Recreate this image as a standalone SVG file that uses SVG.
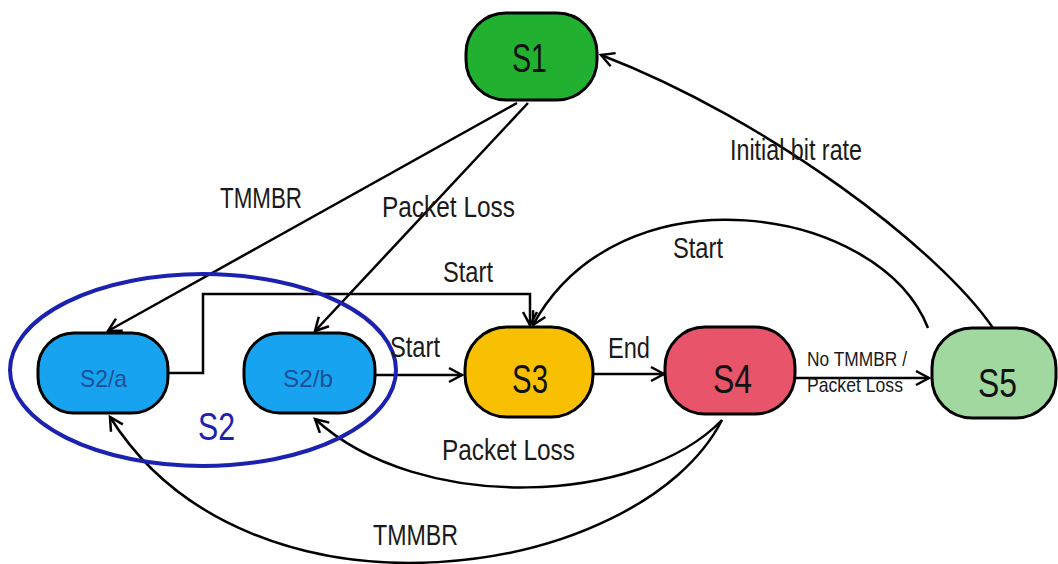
<svg xmlns="http://www.w3.org/2000/svg" width="1058" height="564" viewBox="0 0 1058 564">
<style>
.node{stroke:#000;stroke-width:3}
.lbl{font-family:"Liberation Sans",Arial,sans-serif;fill:#1a1a1a}
.st{font-family:"Liberation Sans",Arial,sans-serif;fill:#111}
.sub{font-family:"Liberation Sans",Arial,sans-serif;fill:#1d4f95}
.conn{fill:none;stroke:#000;stroke-width:2.5}
</style>
<defs>
<marker id="arr" markerUnits="userSpaceOnUse" markerWidth="20" markerHeight="20" viewBox="-16 -10 20 20" refX="0" refY="0" orient="auto">
<path d="M -13 -7 L 0 0 L -13 7" fill="none" stroke="#000" stroke-width="2.5"/>
</marker>
</defs>
<rect width="1058" height="564" fill="#fff"/>
<g id="connectors">
<path class="conn" d="M 517 103 L 108 331" marker-end="url(#arr)"/>
<path class="conn" d="M 528 103 L 315 331" marker-end="url(#arr)"/>
<path class="conn" d="M 168 373 L 203 373 L 203 294 L 530 294 L 530 325" marker-end="url(#arr)"/>
<path class="conn" d="M 375 375 L 462 375" marker-end="url(#arr)"/>
<path class="conn" d="M 594 374 L 664 374" marker-end="url(#arr)"/>
<path class="conn" d="M 795 378 L 929 378" marker-end="url(#arr)"/>
<path class="conn" d="M 928 328 C 880 205 620 165 533 325" marker-end="url(#arr)"/>
<path class="conn" d="M 993 328 C 940 250 770 120 601 55" marker-end="url(#arr)"/>
<path class="conn" d="M 722 420 C 640 505 420 515 315 419" marker-end="url(#arr)"/>
<path class="conn" d="M 722 420 C 640 580 250 640 110 417" marker-end="url(#arr)"/>
</g>
<g id="S2">
<ellipse cx="203" cy="370" rx="193" ry="96" fill="none" stroke="#1c22b0" stroke-width="4"/>
<text class="st" x="198" y="440" font-size="38" textLength="37" lengthAdjust="spacingAndGlyphs" style="fill:#1c22b0">S2</text>
</g>
<g id="S1">
<rect class="node" x="466" y="13" width="131" height="87" rx="40" fill="#22b030"/>
<text class="st" x="512" y="72" font-size="40" textLength="35" lengthAdjust="spacingAndGlyphs">S1</text>
</g>
<g id="S2a">
<rect class="node" x="38" y="333" width="130" height="80" rx="36" fill="#17a3ef"/>
<text class="sub" x="80" y="387" font-size="24" textLength="47" lengthAdjust="spacingAndGlyphs">S2/a</text>
</g>
<g id="S2b">
<rect class="node" x="244" y="333" width="131" height="80" rx="36" fill="#17a3ef"/>
<text class="sub" x="283" y="387" font-size="24" textLength="50" lengthAdjust="spacingAndGlyphs">S2/b</text>
</g>
<g id="S3">
<rect class="node" x="465" y="327" width="128" height="90" rx="42" fill="#f8c000"/>
<text class="st" x="512" y="393" font-size="40" textLength="36" lengthAdjust="spacingAndGlyphs">S3</text>
</g>
<g id="S4">
<rect class="node" x="665" y="327" width="130" height="87" rx="40" fill="#e8546a"/>
<text class="st" x="713" y="393" font-size="40" textLength="39" lengthAdjust="spacingAndGlyphs">S4</text>
</g>
<g id="S5">
<rect class="node" x="932" y="328" width="124" height="90" rx="40" fill="#a0d8a0"/>
<text class="st" x="978" y="397" font-size="40" textLength="39" lengthAdjust="spacingAndGlyphs">S5</text>
</g>
<g id="labels">
<text class="lbl" x="220" y="208" font-size="30" textLength="82" lengthAdjust="spacingAndGlyphs">TMMBR</text>
<text class="lbl" x="382" y="217" font-size="30" textLength="133" lengthAdjust="spacingAndGlyphs">Packet Loss</text>
<text class="lbl" x="443" y="282" font-size="30" textLength="50" lengthAdjust="spacingAndGlyphs">Start</text>
<text class="lbl" x="390" y="357" font-size="30" textLength="50" lengthAdjust="spacingAndGlyphs">Start</text>
<text class="lbl" x="608" y="358" font-size="30" textLength="42" lengthAdjust="spacingAndGlyphs">End</text>
<text class="lbl" x="807" y="366" font-size="21" textLength="100" lengthAdjust="spacingAndGlyphs">No TMMBR /</text>
<text class="lbl" x="807" y="392" font-size="21" textLength="96" lengthAdjust="spacingAndGlyphs">Packet Loss</text>
<text class="lbl" x="442" y="460" font-size="30" textLength="133" lengthAdjust="spacingAndGlyphs">Packet Loss</text>
<text class="lbl" x="373" y="545" font-size="30" textLength="85" lengthAdjust="spacingAndGlyphs">TMMBR</text>
<text class="lbl" x="673" y="258" font-size="30" textLength="50" lengthAdjust="spacingAndGlyphs">Start</text>
<text class="lbl" x="730" y="160" font-size="30" textLength="132" lengthAdjust="spacingAndGlyphs">Initial bit rate</text>
</g>
</svg>
